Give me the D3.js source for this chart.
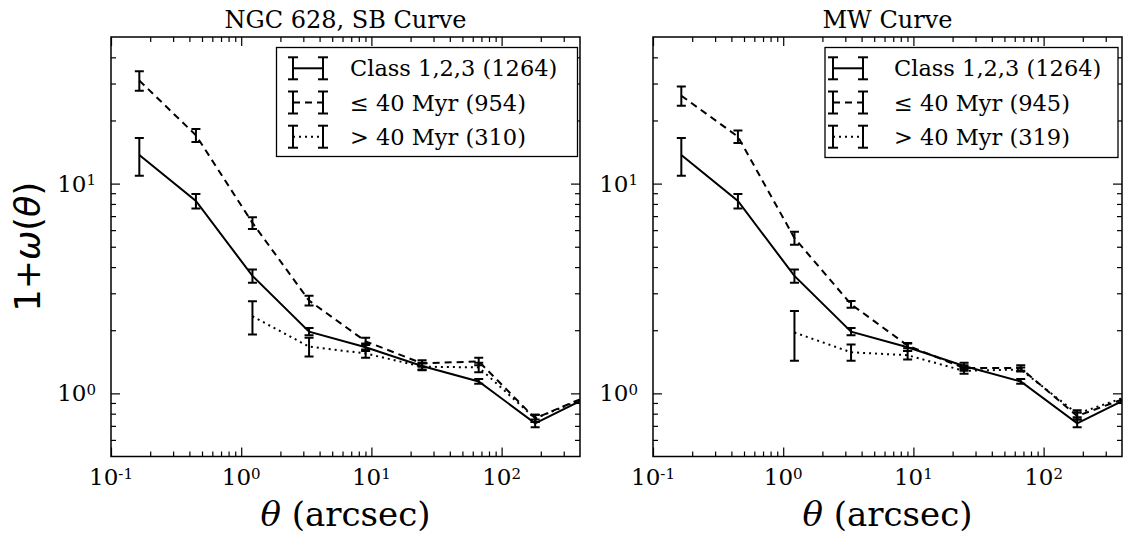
<!DOCTYPE html>
<html>
<head>
<meta charset="utf-8">
<script src="https://cdn.jsdelivr.net/npm/d3@7"></script>
<style>
  body { margin: 0; background: #fff; }
  svg text { fill: #000; }
</style>
</head>
<body>
<svg id="fig" width="1133" height="535"></svg>
<script>
// Angular bin centres (arcsec)
const thetaArcsec = [0.165, 0.449, 1.22, 3.32, 9.03, 24.5, 66.7, 181, 493];

// 1 + w(theta) for all class 1,2,3 clusters (same in both panels)
const allY   = [13.7, 8.26, 3.63, 1.97, 1.66, 1.35, 1.14, 0.72, 0.98];
const allErr = [2.8, 0.66, 0.26, 0.08, 0.07, 0.05, 0.03, 0.03, 0.03];

// NGC 628 surface-brightness age split
const youngSBY   = [31.0, 17.0, 6.5, 2.77, 1.77, 1.39, 1.42, 0.76, 0.99];
const youngSBErr = [3.3, 1.2, 0.42, 0.15, 0.07, 0.05, 0.06, 0.03, 0.03];
const oldSBY     = [null, null, 2.33, 1.67, 1.55, 1.34, 1.33, 0.76, 0.98];
const oldSBErr   = [null, null, 0.42, 0.17, 0.07, 0.05, 0.07, 0.03, 0.03];

// Milky Way curve age split
const youngMWY   = [26.25, 16.75, 5.5, 2.66, 1.69, 1.32, 1.32, 0.78, 0.98];
const youngMWErr = [2.75, 1.15, 0.39, 0.1, 0.05, 0.04, 0.04, 0.03, 0.03];
const oldMWY     = [null, null, 1.95, 1.57, 1.52, 1.28, 1.30, 0.80, 0.99];
const oldMWErr   = [null, null, 0.52, 0.14, 0.07, 0.04, 0.03, 0.03, 0.03];

const panelTitles = ["NGC 628, SB Curve", "MW Curve"];
const legendSB = ["Class 1,2,3 (1264)", "\u2264 40 Myr (954)", "> 40 Myr (310)"];
const legendMW = ["Class 1,2,3 (1264)", "\u2264 40 Myr (945)", "> 40 Myr (319)"];

const xMajor = [0.1, 1, 10, 100];
const yMajor = [1, 10];

// ---------------------------------------------------------------
const SERIF = "'DejaVu Serif', serif";
const SANS = "'DejaVu Sans', sans-serif";
const svg = d3.select("#fig");

const TOP = 37, BOTTOM = 456.5, WIDTH = 469;
const styles = {
  solid:  null,
  dashed: "7,5",
  dotted: "2,4"
};

const panels = [
  { left: 111, title: panelTitles[0], young: youngSBY, youngErr: youngSBErr,
    old: oldSBY, oldErr: oldSBErr, labels: legendSB,
    legend: { x: 276.5, y: 47.5, w: 301, h: 109, handle: 293, text: 350 } },
  { left: 653, title: panelTitles[1], young: youngMWY, youngErr: youngMWErr,
    old: oldMWY, oldErr: oldMWErr, labels: legendMW,
    legend: { x: 825, y: 47.5, w: 293, h: 110, handle: 833, text: 894 } }
];

function minorTicks(domain) {
  const out = [];
  for (let e = -2; e <= 3; e++) {
    for (let m = 2; m <= 9; m++) {
      const v = m * Math.pow(10, e);
      if (v > domain[0] * 1.0001 && v < domain[1] * 0.9999) out.push(v);
    }
  }
  return out;
}

function powLabel(textSel, exp) {
  textSel.text(null);
  textSel.append("tspan").text("10");
  textSel.append("tspan").attr("dy", "-0.42em").attr("font-size", "15px").text(exp);
}

panels.forEach((p, i) => {
  const x = d3.scaleLog().domain([0.1, 400]).range([p.left, p.left + WIDTH]);
  const y = d3.scaleLog().domain([0.5, 50]).range([BOTTOM, TOP]);
  const g = svg.append("g");

  const clipId = "clip" + i;
  svg.append("clipPath").attr("id", clipId).append("rect")
    .attr("x", p.left).attr("y", TOP).attr("width", WIDTH).attr("height", BOTTOM - TOP);

  // series lines with error bars
  const series = [
    { ys: allY, es: allErr, dash: styles.solid },
    { ys: p.young, es: p.youngErr, dash: styles.dashed },
    { ys: p.old, es: p.oldErr, dash: styles.dotted }
  ];
  const plot = g.append("g").attr("clip-path", `url(#${clipId})`);
  series.forEach(s => {
    const pts = thetaArcsec.map((t, k) => ({ t, v: s.ys[k], e: s.es[k] })).filter(d => d.v != null);
    const line = d3.line().x(d => x(d.t)).y(d => y(d.v));
    plot.append("path").datum(pts).attr("d", line)
      .attr("fill", "none").attr("stroke", "#000").attr("stroke-width", 2)
      .attr("stroke-dasharray", s.dash);
    const eb = plot.selectAll(null).data(pts).enter().append("g");
    eb.append("line")
      .attr("x1", d => x(d.t)).attr("x2", d => x(d.t))
      .attr("y1", d => y(d.v - d.e)).attr("y2", d => y(d.v + d.e))
      .attr("stroke", "#000").attr("stroke-width", 2);
    [-1, 1].forEach(sgn => {
      eb.append("line")
        .attr("x1", d => x(d.t) - 4.5).attr("x2", d => x(d.t) + 4.5)
        .attr("y1", d => y(d.v + sgn * d.e)).attr("y2", d => y(d.v + sgn * d.e))
        .attr("stroke", "#000").attr("stroke-width", 2);
    });
  });

  // axes: inward ticks on all four sides
  const xMinor = minorTicks(x.domain());
  const yMinor = minorTicks(y.domain());
  const mk = (axisFn, scale, vals, size) => axisFn(scale).tickValues(vals).tickSize(-size).tickFormat("");

  const axes = [
    { fn: d3.axisBottom, s: x, tr: `translate(0,${BOTTOM})` },
    { fn: d3.axisTop, s: x, tr: `translate(0,${TOP})` },
    { fn: d3.axisLeft, s: y, tr: `translate(${p.left},0)` },
    { fn: d3.axisRight, s: y, tr: `translate(${p.left + WIDTH},0)` }
  ];
  axes.forEach(a => {
    const isX = a.s === x;
    const major = isX ? xMajor : yMajor;
    const minor = isX ? xMinor : yMinor;
    g.append("g").attr("transform", a.tr).call(mk(a.fn, a.s, minor, 5))
      .call(gg => gg.select(".domain").remove())
      .selectAll("line").attr("stroke", "#000").attr("stroke-width", 1.2);
    g.append("g").attr("transform", a.tr).call(mk(a.fn, a.s, major, 9))
      .call(gg => gg.select(".domain").remove())
      .selectAll("line").attr("stroke", "#000").attr("stroke-width", 1.2);
  });
  g.append("rect").attr("x", p.left).attr("y", TOP).attr("width", WIDTH).attr("height", BOTTOM - TOP)
    .attr("fill", "none").attr("stroke", "#000").attr("stroke-width", 1.5);

  // tick labels
  const xl = g.selectAll(null).data(xMajor).enter().append("text")
    .attr("x", d => x(d)).attr("y", 485)
    .attr("text-anchor", "middle").attr("font-family", SERIF).attr("font-size", "23px");
  xl.each(function (d) { powLabel(d3.select(this), String(Math.round(Math.log10(d)))); });

  const yl = g.selectAll(null).data(yMajor).enter().append("text")
    .attr("x", p.left - 15).attr("y", d => y(d) + 8)
    .attr("text-anchor", "end").attr("font-family", SERIF).attr("font-size", "23px");
  yl.each(function (d) { powLabel(d3.select(this), String(Math.round(Math.log10(d)))); });

  // title
  g.append("text").attr("x", p.left + WIDTH / 2).attr("y", 28)
    .attr("text-anchor", "middle").attr("font-family", SERIF).attr("font-size", "24px")
    .text(p.title);

  // x-axis label
  const xt = g.append("text").attr("x", p.left + WIDTH / 2).attr("y", 526)
    .attr("text-anchor", "middle").attr("font-family", SERIF).attr("font-size", "34px");
  xt.append("tspan").attr("font-style", "italic").text("\u03b8");
  xt.append("tspan").text(" (arcsec)");

  // legend
  const L = p.legend;
  const lg = g.append("g");
  lg.append("rect").attr("x", L.x).attr("y", L.y).attr("width", L.w).attr("height", L.h)
    .attr("fill", "#fff").attr("stroke", "#000").attr("stroke-width", 1.3);
  const rowY = [68.3, 102.5, 136.7];
  const dashes = [styles.solid, styles.dashed, styles.dotted];
  p.labels.forEach((lab, k) => {
    const cy = rowY[k];
    const x0 = L.handle, x1 = L.handle + 30;
    lg.append("line").attr("x1", x0).attr("x2", x1).attr("y1", cy).attr("y2", cy)
      .attr("stroke", "#000").attr("stroke-width", 2).attr("stroke-dasharray", dashes[k]);
    [x0, x1].forEach(hx => {
      lg.append("line").attr("x1", hx).attr("x2", hx).attr("y1", cy - 11).attr("y2", cy + 11)
        .attr("stroke", "#000").attr("stroke-width", 2);
      [-11, 11].forEach(dy => lg.append("line").attr("x1", hx - 5).attr("x2", hx + 5)
        .attr("y1", cy + dy).attr("y2", cy + dy).attr("stroke", "#000").attr("stroke-width", 2));
    });
    lg.append("text").attr("x", L.text).attr("y", cy + 8)
      .attr("font-family", SERIF).attr("font-size", "22.5px").text(lab);
  });
});

// shared y-axis label
const ylab = svg.append("text")
  .attr("transform", `translate(40,${(TOP + BOTTOM) / 2}) rotate(-90)`)
  .attr("text-anchor", "middle").attr("font-family", SANS).attr("font-size", "35px");
ylab.append("tspan").text("1+");
ylab.append("tspan").attr("font-style", "italic").text("\u03c9");
ylab.append("tspan").text("(");
ylab.append("tspan").attr("font-style", "italic").text("\u03b8");
ylab.append("tspan").text(")");
</script>
</body>
</html>
